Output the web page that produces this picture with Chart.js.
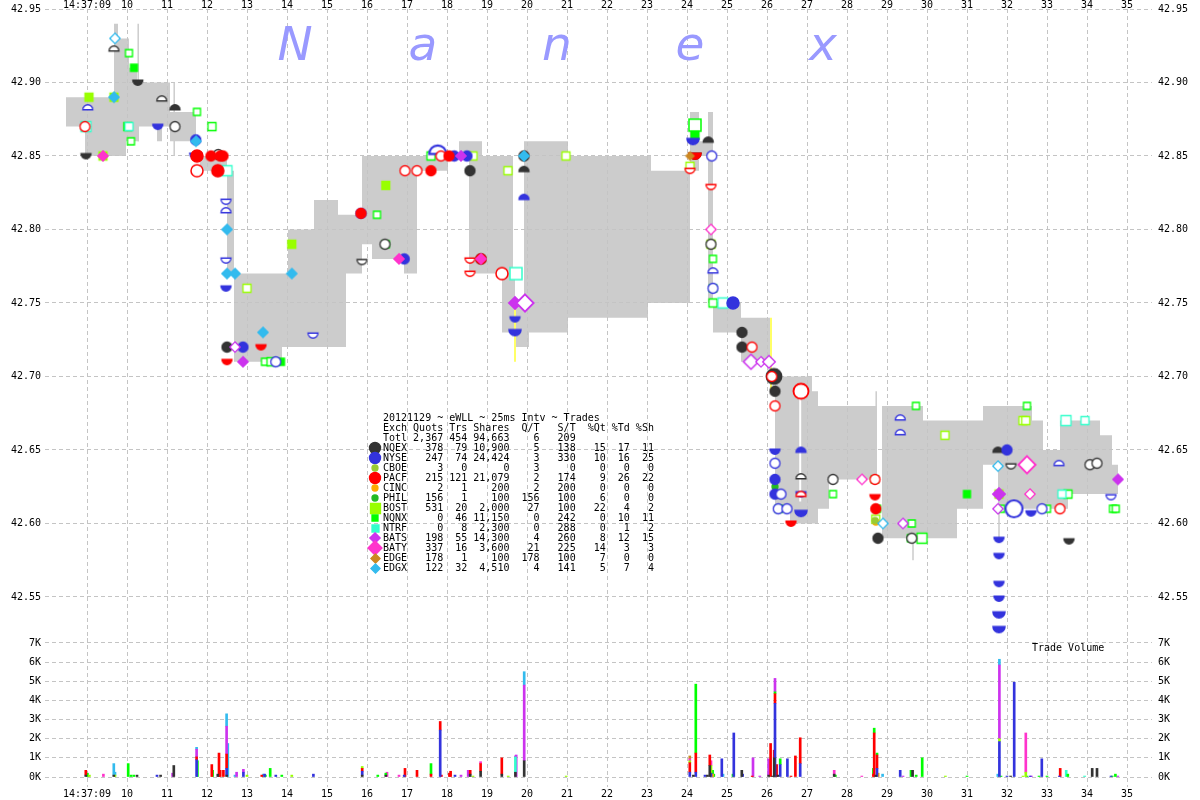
<!DOCTYPE html>
<html><head><meta charset="utf-8">
<script src="https://cdn.jsdelivr.net/npm/chart.js@4.4.1/dist/chart.umd.min.js"></script>
<style>
html,body{margin:0;padding:0;background:#fff;width:1200px;height:800px;overflow:hidden}
#top{position:absolute;left:0;top:0}
#bot{position:absolute;left:0;top:638px}
</style></head><body>
<canvas id="top" width="1200" height="638"></canvas>
<canvas id="bot" width="1200" height="162"></canvas>
<script>
// ---------- axes / ticks ----------
const xTickVals = [9,10,11,12,13,14,15,16,17,18,19,20,21,22,23,24,25,26,27,28,29,30,31,32,33,34,35];
const priceTicks = [42.55,42.60,42.65,42.70,42.75,42.80,42.85,42.90,42.95];
const volTicks = [0,1000,2000,3000,4000,5000,6000,7000];

// ---------- exchanges ----------
const exchNames  = ['NQEX','NYSE','CBOE','PACF','CINC','PHIL','BOST','NQNX','NTRF','BATS','BATY','EDGE','EDGX'];
const exchQuots  = [378,247,3,215,2,156,531,0,0,198,337,178,122];
const exchTrs    = [79,74,0,121,1,1,20,46,8,55,16,1,32];
const exchShares = [10900,24424,0,21079,200,100,2000,11150,2300,14300,3600,100,4510];
const exchQT     = [5,3,3,2,2,156,27,0,0,4,21,178,4];
const exchST     = [138,330,0,174,200,100,100,242,288,260,225,100,141];
const exchPctQ   = [15,10,0,9,0,6,22,0,0,8,14,7,5];
const exchPctT   = [17,16,0,26,0,0,4,10,1,12,3,0,7];
const exchPctS   = [11,25,0,22,0,0,2,11,2,15,3,0,4];
const totalRow   = ['Totl','2,367','454','94,663','6','209','','',''];

// ---------- NBBO spread (time in seconds after 14:37:00) ----------
const spreadT   = [8.475,8.95,9.675,9.775,9.975,10.05,10.25,10.3,10.75,10.875,11.075,11.725,11.825,12.5,12.675,13.875,14.025,14.675,15.275,15.475,15.875,16.125,16.925,17.25,18.025,18.3,18.55,18.875,19.375,19.65,19.7,19.925,20.05,21.025,23.025,23.1,24.075,24.3,24.525,24.65,25.35,26.075,26.2,26.575,27.125,27.275,27.55,28.75,28.875,29.9,30.75,31.4,31.775,32.625,32.9,33.325,33.525,34.325,34.625,34.775];
const spreadAsk = [42.89,42.89,42.94,42.93,42.93,42.91,42.90,42.90,42.90,42.90,42.88,42.85,42.85,42.84,42.77,42.77,42.80,42.82,42.81,42.81,42.85,42.85,42.85,42.85,42.85,42.86,42.86,42.85,42.85,42.77,42.75,42.86,42.86,42.85,42.85,42.84,42.88,42.86,42.88,42.75,42.74,42.70,42.70,42.70,42.69,42.68,42.68,42.68,42.68,42.67,42.67,42.68,42.68,42.67,42.65,42.67,42.67,42.66,42.64,42.64];
const spreadBid = [42.87,42.85,42.85,42.85,42.86,42.86,42.86,42.87,42.86,42.87,42.86,42.85,42.84,42.77,42.71,42.72,42.72,42.72,42.72,42.77,42.79,42.78,42.77,42.84,42.85,42.85,42.77,42.77,42.73,42.73,42.72,42.72,42.73,42.74,42.75,42.75,42.84,42.85,42.75,42.73,42.71,42.70,42.61,42.60,42.60,42.61,42.63,42.68,42.59,42.59,42.61,42.64,42.61,42.61,42.61,42.61,42.62,42.62,42.62,42.62];

// quote flicker segments [t, from, to]
const grayLines   = [[10.28,42.94,42.86],[11.18,42.90,42.85],[28.73,42.69,42.63],[29.65,42.59,42.575],[31.8,42.62,42.59]];
const yellowLines = [[19.7,42.75,42.71],[26.1,42.74,42.69]];
const whiteLines  = [[26.83,42.69,42.615]];

// ---------- prints / quotes per exchange: [t, price, kind, lots] ----------
// kind: T trade, o open print, B bid (filled), b bid (open), A ask (filled), a ask (open)
const mkNQEX = [[8.975,42.850,'B'],[9.675,42.923,'a'],[10.27,42.900,'B'],[10.87,42.889,'a'],[11.2,42.883,'A'],[11.2,42.870,'o'],[12.28,42.851,'o'],[12.27,42.84,'T'],[12.5,42.72,'T'],[15.875,42.778,'b'],[16.45,42.79,'o'],[18.575,42.84,'T'],[18.85,42.78,'T'],[19.375,42.77,'T'],[19.925,42.85,'T'],[19.925,42.841,'A'],[24.2,42.85,'B',3],[24.53,42.861,'A'],[24.6,42.79,'o'],[25.375,42.73,'T'],[25.375,42.72,'T'],[26.175,42.70,'T',6],[26.2,42.69,'T'],[26.85,42.632,'a'],[27.65,42.63,'o'],[28.775,42.59,'T'],[29.62,42.59,'o'],[31.775,42.65,'A'],[32.1,42.639,'b'],[33.55,42.588,'B'],[34.075,42.64,'o'],[34.25,42.641,'o']];
const mkNYSE = [[9.02,42.883,'a'],[10.77,42.87,'B'],[11.72,42.861,'T'],[11.72,42.85,'B',3],[12.475,42.819,'b'],[12.475,42.813,'a'],[12.475,42.779,'b'],[12.475,42.76,'B'],[12.9,42.72,'T'],[13.72,42.71,'o'],[14.65,42.728,'b'],[15.85,42.811,'o'],[16.93,42.78,'T'],[17.77,42.854,'a',10],[18.18,42.85,'T'],[18.5,42.85,'T'],[19.925,42.822,'A'],[19.7,42.739,'B'],[19.7,42.73,'B',3],[24.15,42.86,'B',3],[24.62,42.85,'o'],[24.65,42.772,'a'],[24.65,42.76,'o'],[25.15,42.75,'T',3],[26.2,42.649,'B'],[26.2,42.641,'o'],[26.2,42.63,'T'],[26.2,42.62,'T'],[26.35,42.62,'o'],[26.28,42.61,'o'],[26.5,42.61,'o'],[26.85,42.65,'A'],[26.85,42.62,'B'],[26.85,42.607,'B',3],[29.33,42.672,'a'],[29.33,42.662,'a'],[32.0,42.65,'T'],[32.175,42.61,'o',10],[32.6,42.607,'B'],[32.875,42.61,'o'],[33.3,42.641,'a'],[34.6,42.618,'b'],[31.8,42.589,'B'],[31.8,42.578,'B'],[31.8,42.559,'B'],[31.8,42.549,'B'],[31.8,42.538,'B',3],[31.8,42.528,'B',3]];
const mkCBOE = [[28.7,42.602,'T']];
const mkPACF = [[8.95,42.87,'o'],[11.75,42.85,'T',3],[11.75,42.84,'o',4],[12.1,42.85,'T'],[12.33,42.85,'T'],[12.4,42.85,'T'],[12.27,42.84,'T',4],[12.5,42.71,'B'],[13.35,42.72,'B'],[15.85,42.811,'T'],[16.95,42.84,'o'],[17.25,42.84,'o'],[17.6,42.84,'T'],[17.85,42.85,'o'],[18.05,42.85,'T'],[18.575,42.779,'b'],[18.575,42.77,'b'],[18.85,42.78,'T'],[19.375,42.77,'o',4],[24.075,42.84,'b'],[24.2,42.85,'B',4],[24.6,42.829,'b'],[25.625,42.72,'o'],[26.12,42.70,'o'],[26.2,42.68,'o'],[26.8,42.69,'T'],[26.85,42.69,'o',8],[26.6,42.60,'B'],[26.85,42.62,'a'],[28.7,42.63,'o'],[28.7,42.618,'B'],[28.72,42.61,'T'],[33.325,42.61,'o']];
const mkCINC = [[28.72,42.601,'T']];
const mkPHIL = [[26.2,42.625,'T']];
const mkBOST = [[9.05,42.89,'T'],[9.4,42.85,'T'],[9.675,42.89,'T'],[13.0,42.76,'o'],[14.12,42.79,'T'],[16.47,42.83,'T'],[18.65,42.85,'o'],[19.525,42.84,'o'],[20.975,42.85,'o'],[24.075,42.843,'o'],[24.6,42.79,'o'],[28.72,42.603,'o'],[30.45,42.66,'o'],[31.8,42.62,'T'],[32.4,42.67,'o'],[32.47,42.67,'o']];
const mkNQNX = [[10.05,42.92,'o'],[10.175,42.91,'T'],[10.02,42.87,'T',3],[10.1,42.86,'o'],[11.75,42.88,'o'],[12.125,42.87,'o',3],[13.45,42.71,'o'],[13.6,42.71,'o',4],[13.85,42.71,'T'],[16.25,42.81,'o'],[16.47,42.79,'o'],[17.6,42.85,'o',3],[24.2,42.871,'o',12],[24.2,42.864,'T',3],[24.65,42.78,'o'],[24.65,42.76,'o'],[24.65,42.75,'o',3],[26.25,42.62,'o'],[26.3,42.61,'o'],[27.65,42.62,'o'],[28.7,42.63,'o'],[28.75,42.61,'o'],[29.62,42.60,'o'],[29.6,42.59,'T'],[29.875,42.59,'o',6],[29.725,42.68,'o'],[31.0,42.62,'T'],[31.85,42.61,'o'],[32.5,42.68,'o'],[33.0,42.61,'o'],[33.525,42.62,'o',3],[34.65,42.61,'o'],[34.72,42.61,'o']];
const mkNTRF = [[8.975,42.87,'o',4],[10.05,42.87,'o'],[12.5,42.84,'o',3],[19.725,42.77,'o',6],[24.9,42.75,'o',3],[33.375,42.62,'o'],[33.475,42.67,'o',3],[33.95,42.67,'o']];
const mkBATS = [[12.7,42.72,'o'],[12.9,42.71,'T'],[18.35,42.85,'T'],[19.7,42.75,'T',3],[19.95,42.75,'o',10],[25.6,42.71,'o',6],[25.85,42.71,'o'],[26.05,42.71,'o',3],[29.4,42.60,'o'],[31.8,42.62,'T',3],[31.775,42.61,'o'],[34.775,42.63,'T']];
const mkBATY = [[9.4,42.85,'T'],[16.8,42.78,'T'],[18.85,42.78,'T'],[24.6,42.80,'o'],[28.375,42.63,'o'],[32.5,42.64,'o',10],[32.575,42.62,'o']];
const mkEDGE = [[24.075,42.85,'T']];
const mkEDGX = [[9.7,42.93,'o'],[9.675,42.89,'T'],[11.725,42.86,'T'],[12.5,42.80,'T'],[12.5,42.77,'T'],[12.7,42.77,'T'],[13.4,42.73,'T'],[14.12,42.77,'T'],[19.925,42.85,'T'],[28.9,42.60,'o'],[31.775,42.639,'o']];

// ---------- trade volume per exchange: [t, shares] ----------
const volNQEX = [[8.97,100],[9.67,100],[10.25,100],[10.84,100],[11.17,600],[12.27,150],[12.49,100],[15.88,100],[16.47,100],[18.58,150],[18.84,300],[19.37,150],[19.71,250],[19.93,850],[24.16,100],[24.51,100],[24.57,600],[25.37,350],[26.04,100],[26.14,50],[26.18,1000],[26.27,100],[27.68,150],[28.72,100],[29.64,350],[32.09,50],[34.13,450],[34.25,450]];
const volNYSE = [[10.75,100],[11.74,900],[12.49,350],[12.91,250],[13.44,150],[13.72,100],[14.66,150],[15.88,200],[16.93,100],[17.83,2450],[18.2,100],[24.07,250],[24.22,250],[24.45,100],[24.6,200],[24.87,950],[25.17,2300],[25.39,150],[26.2,3850],[26.33,650],[26.51,950],[26.83,700],[28.75,450],[29.33,350],[31.81,1850],[32.0,50],[32.18,4950],[32.58,50],[32.87,950],[33.31,50],[34.6,50]];
const volCBOE = [];
const volPACF = [[8.97,250],[11.74,150],[12.12,650],[12.3,1250],[12.33,350],[12.41,350],[12.49,750],[13.37,100],[15.88,150],[16.95,450],[17.25,350],[17.6,150],[17.83,450],[17.86,100],[18.06,200],[18.09,300],[18.58,200],[18.84,400],[19.37,850],[24.07,500],[24.22,1000],[24.57,550],[25.63,50],[26.09,1750],[26.18,400],[26.2,500],[26.24,650],[26.6,50],[26.71,1100],[26.83,1350],[28.66,150],[28.68,2300],[28.75,700],[33.33,450]];
const volCINC = [[24.64,150],[28.78,200]];
const volPHIL = [];
const volBOST = [[9.06,100],[9.7,100],[13.0,100],[14.12,100],[15.88,100],[18.65,50],[19.53,50],[20.98,50],[24.07,100],[24.6,400],[30.46,50],[31.81,150],[32.4,50],[32.47,250]];
const volNQNX = [[9.01,200],[10.03,700],[10.1,100],[10.17,100],[11.76,850],[12.14,350],[13.46,100],[13.58,450],[13.87,100],[16.27,100],[16.47,100],[17.6,550],[24.22,3600],[24.64,200],[24.67,150],[25.15,150],[26.2,100],[26.33,300],[27.71,100],[28.66,300],[28.68,250],[28.75,100],[29.6,350],[29.73,100],[29.88,1000],[31.0,50],[31.85,50],[32.5,50],[32.8,50],[33.0,50],[33.52,150],[34.63,50],[34.71,150]];
const volNTRF = [[19.71,800],[33.48,350],[33.94,50]];
const volBATS = [[11.14,200],[11.74,400],[12.49,1450],[12.74,250],[12.91,150],[18.35,100],[18.53,350],[19.71,50],[19.73,1150],[19.93,3950],[25.65,1000],[25.82,50],[26.04,850],[26.2,700],[29.4,50],[31.81,3850],[32.61,50],[34.77,50]];
const volBATY = [[9.41,150],[16.5,250],[16.8,100],[18.84,100],[24.07,100],[24.6,250],[27.68,200],[28.37,50],[32.47,2050]];
const volEDGE = [[24.07,150]];
const volEDGX = [[9.67,600],[9.7,150],[11.74,100],[12.49,650],[12.52,1750],[12.7,100],[13.41,150],[19.93,700],[24.9,150],[28.89,150],[31.77,150],[31.81,300]];

// ---------- styles ----------
const exchColors = ['#333333','#3333dd','#99cc33','#ff0000','#ffaa00','#22bb22','#99ff00','#00ff00','#33ffcc','#cc33ee','#ff33cc','#cc8822','#33bbee'];
const exchShape  = ['circle','circle','circle','circle','circle','circle','square','square','square','diamond','diamond','diamond','diamond'];
const baseR      = [5,5,3,5,3,3,4,3.5,4,4.5,4.5,3.5,4.5];
const legendR    = [5.5,5.5,3,5.5,3,3,5,3,3.5,4.5,6,4,4];
const markerOrder= [5,4,6,3,6,6,9,8,7,2,1,1,0];
const mkLists  = [mkNQEX,mkNYSE,mkCBOE,mkPACF,mkCINC,mkPHIL,mkBOST,mkNQNX,mkNTRF,mkBATS,mkBATY,mkEDGE,mkEDGX];
const volLists = [volNQEX,volNYSE,volCBOE,volPACF,volCINC,volPHIL,volBOST,volNQNX,volNTRF,volBATS,volBATY,volEDGE,volEDGX];

const FONT = {family:'"DejaVu Sans Mono", monospace', size:10};
const GRID = '#c4c4c4';
const X_MIN = 7.95, X_MAX = 35.625;
const P_MIN = 42.5221, P_MAX = 42.95;
const V_MIN = -522, V_MAX = 7261;

const cache = {};
function marker(shape, kind, color, r){
  const key = shape+kind+color+r;
  if (cache[key]) return cache[key];
  const lw = Math.max(1.3, r/4);
  const s = Math.ceil(2.4*r + 2*lw + 2);
  const c = document.createElement('canvas'); c.width = s; c.height = s;
  const g = c.getContext('2d');
  const cx = s/2, cy = s/2;
  const filled = (kind==='T'||kind==='B'||kind==='A');
  g.beginPath();
  if (kind==='B'||kind==='b'){ g.arc(cx, cy - r*0.45, r, 0, Math.PI); g.closePath(); }
  else if (kind==='A'||kind==='a'){ g.arc(cx, cy + r*0.45, r, Math.PI, 2*Math.PI); g.closePath(); }
  else if (shape==='circle') g.arc(cx, cy, r, 0, 2*Math.PI);
  else if (shape==='square') g.rect(cx-r, cy-r, 2*r, 2*r);
  else { const d=r*1.15; g.moveTo(cx,cy-d); g.lineTo(cx+d,cy); g.lineTo(cx,cy+d); g.lineTo(cx-d,cy); g.closePath(); }
  g.fillStyle = filled ? color : '#ffffff'; g.fill();
  g.lineWidth = lw; g.strokeStyle = color; g.stroke();
  cache[key] = c; return c;
}
function sizeFactor(n){ return n>=10?1.7 : n>=6?1.45 : n>=3?1.2 : 1; }
function segs(list){ const out=[]; list.forEach(s=>{ out.push({x:s[0],y:s[1]},{x:s[0],y:s[2]},{x:s[0],y:null}); }); return out; }

const markerSets = exchNames.map((name,i)=>({
  type:'line', label:name, showLine:false, yAxisID:'y',
  data: mkLists[i].map(d=>({x:d[0], y:d[1], k:d[2], n:d[3]||1})),
  pointRadius:4, pointHoverRadius:4,
  pointStyle: ctx => { const d = ctx.raw; return (d && d.k) ? marker(exchShape[i], d.k, exchColors[i], Math.round(baseR[i]*sizeFactor(d.n)*2)/2) : 'circle'; },
  order: markerOrder[i]
}));

const lineSet = (list,color,w)=>({type:'line', data:segs(list), borderColor:color, borderWidth:w, pointRadius:0, fill:false, spanGaps:false, order:10});

const topDatasets = [
  {type:'line', label:'ask', data: spreadT.map((t,i)=>({x:t,y:spreadAsk[i]})), stepped:true, borderColor:'rgba(0,0,0,0)', borderWidth:0, pointRadius:0, fill:'+1', backgroundColor:'#cccccc', order:20},
  {type:'line', label:'bid', data: spreadT.map((t,i)=>({x:t,y:spreadBid[i]})), stepped:true, borderColor:'rgba(0,0,0,0)', borderWidth:0, pointRadius:0, fill:false, order:21},
  lineSet(grayLines,'#cccccc',1.5),
  lineSet(yellowLines,'#ffff66',2),
  lineSet(whiteLines,'#ffffff',2),
  ...markerSets
];

const topDeco = {
  id:'topDeco',
  beforeDatasetsDraw(chart){
    const g = chart.ctx; g.save();
    g.font = 'italic 47px "DejaVu Sans", sans-serif';
    g.fillStyle = '#9999ff'; g.textAlign = 'center'; g.textBaseline = 'alphabetic';
    const letters = ['N','a','n','e','x'], xs = [295,423,557,690,823];
    letters.forEach((l,i)=>g.fillText(l, xs[i], 60));
    g.restore();
  },
  afterDraw(chart){
    const g = chart.ctx; g.save();
    g.font = '10px "DejaVu Sans Mono", monospace';
    g.fillStyle = '#000'; g.textAlign = 'left'; g.textBaseline = 'middle';
    const fmt = r => r[0].padEnd(4) + String(r[1]).padStart(6) + String(r[2]).padStart(4) + String(r[3]).padStart(7) + String(r[4]).padStart(5) + String(r[5]).padStart(6) + String(r[6]).padStart(5) + String(r[7]).padStart(4) + String(r[8]).padStart(4);
    const x0 = 383, y0 = 418;
    g.fillText('20121129 ~ eWLL ~ 25ms Intv ~ Trades', x0, y0);
    g.fillText(fmt(['Exch','Quots','Trs','Shares','Q/T','S/T','%Qt','%Td','%Sh']), x0, y0+10);
    g.fillText(fmt(totalRow), x0, y0+20);
    exchNames.forEach((n,i)=>{
      const y = y0 + 30 + i*10;
      const row = [n, exchQuots[i].toLocaleString('en-US'), exchTrs[i], exchShares[i].toLocaleString('en-US'), exchQT[i], exchST[i], exchPctQ[i], exchPctT[i], exchPctS[i]];
      g.fillStyle = '#000';
      g.fillText(fmt(row), x0, y);
      const m = marker(exchShape[i], 'T', exchColors[i], legendR[i]);
      g.drawImage(m, Math.round(375 - m.width/2), Math.round(y - m.height/2));
    });
    g.restore();
  }
};

const botDeco = {
  id:'botDeco',
  afterDraw(chart){
    const g = chart.ctx; g.save();
    g.font = '10px "DejaVu Sans Mono", monospace';
    g.fillStyle = '#000'; g.textAlign = 'left'; g.textBaseline = 'middle';
    g.fillText('Trade Volume', 1032, 10);
    g.restore();
  }
};

const xLabel = v => v===9 ? '14:37:09' : String(v);

new Chart(document.getElementById('top'), {
  type:'line',
  data:{datasets: topDatasets},
  plugins:[topDeco],
  options:{
    responsive:false, animation:false, events:[],
    layout:{padding:0, autoPadding:false},
    plugins:{legend:{display:false}, tooltip:{enabled:false}, filler:{drawTime:'beforeDraw'}},
    scales:{
      x:{type:'linear', position:'top', min:X_MIN, max:X_MAX,
         afterBuildTicks: s=>{ s.ticks = xTickVals.map(v=>({value:v})); },
         afterFit: s=>{ s.height = 9; s.paddingLeft = 0; s.paddingRight = 0; },
         ticks:{font:FONT, color:'#000', padding:-2, maxRotation:0, minRotation:0, autoSkip:false, callback: xLabel},
         grid:{color:GRID, drawTicks:false, lineWidth:1},
         border:{display:false, dash:[4,3]}},
      y:{type:'linear', position:'left', min:P_MIN, max:P_MAX,
         afterBuildTicks: s=>{ s.ticks = priceTicks.map(v=>({value:v})); },
         afterFit: s=>{ s.width = 45; s.paddingTop = 0; s.paddingBottom = 0; },
         ticks:{font:FONT, color:'#000', padding:4, callback: v=>Number(v).toFixed(2)},
         grid:{color:GRID, drawTicks:false, lineWidth:1},
         border:{display:false, dash:[4,3]}},
      yR:{type:'linear', position:'right', min:P_MIN, max:P_MAX,
         afterBuildTicks: s=>{ s.ticks = priceTicks.map(v=>({value:v})); },
         afterFit: s=>{ s.width = 48; s.paddingTop = 0; s.paddingBottom = 0; },
         ticks:{font:FONT, color:'#000', padding:6, callback: v=>Number(v).toFixed(2)},
         grid:{display:false, drawTicks:false},
         border:{display:false}}
    }
  }
});

new Chart(document.getElementById('bot'), {
  type:'bar',
  data:{datasets: exchNames.map((n,i)=>({
    label:n, data: volLists[i].map(d=>({x:d[0], y:d[1]})),
    backgroundColor: exchColors[i], borderWidth:0, barThickness:2
  }))},
  plugins:[botDeco],
  options:{
    responsive:false, animation:false, events:[],
    layout:{padding:0, autoPadding:false},
    plugins:{legend:{display:false}, tooltip:{enabled:false}},
    scales:{
      x:{type:'linear', position:'bottom', min:X_MIN, max:X_MAX, stacked:true, offset:false,
         afterBuildTicks: s=>{ s.ticks = xTickVals.map(v=>({value:v})); },
         afterFit: s=>{ s.height = 13; s.paddingLeft = 0; s.paddingRight = 0; },
         ticks:{font:FONT, color:'#000', padding:1, maxRotation:0, minRotation:0, autoSkip:false, callback: xLabel},
         grid:{color:GRID, drawTicks:false, offset:false, lineWidth:1},
         border:{display:false, dash:[4,3]}},
      y:{type:'linear', position:'left', min:V_MIN, max:V_MAX, stacked:true,
         afterBuildTicks: s=>{ s.ticks = volTicks.map(v=>({value:v})); },
         afterFit: s=>{ s.width = 45; s.paddingTop = 0; s.paddingBottom = 0; },
         ticks:{font:FONT, color:'#000', padding:4, callback: v=>(v/1000)+'K'},
         grid:{color:GRID, drawTicks:false, lineWidth:1},
         border:{display:false, dash:[4,3]}},
      yR:{type:'linear', position:'right', min:V_MIN, max:V_MAX,
         afterBuildTicks: s=>{ s.ticks = volTicks.map(v=>({value:v})); },
         afterFit: s=>{ s.width = 48; s.paddingTop = 0; s.paddingBottom = 0; },
         ticks:{font:FONT, color:'#000', padding:6, callback: v=>(v/1000)+'K'},
         grid:{display:false, drawTicks:false},
         border:{display:false}}
    }
  }
});
</script></body></html>
